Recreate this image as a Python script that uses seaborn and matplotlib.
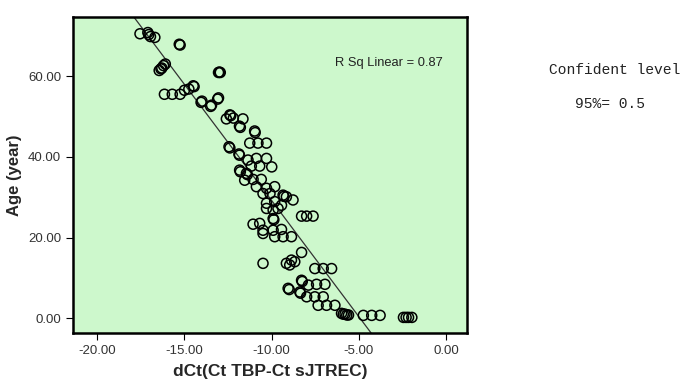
# Age vs dCt scatter with linear fit (SPSS style)
import matplotlib
matplotlib.use("Agg")
import matplotlib.pyplot as plt
import seaborn as sns
import pandas as pd

# values
dct = [-17.55, -17.1, -17.05, -16.95, -16.7,
       -15.3, -15.25,
       -16.45, -16.35, -16.3, -16.2, -16.1,
       -13.05, -12.95, -13.0,
       -16.15, -15.7, -15.25,
       -15.0, -14.75, -14.5, -14.45,
       -14.05, -14.0, -13.5, -13.45, -13.1, -13.05,
       -12.4, -12.35, -12.6, -12.2, -11.65,
       -11.85, -11.8,
       -10.98, -10.95,
       -11.26, -10.79, -10.3,
       -12.45, -12.4,
       -11.88, -11.85,
       -11.36, -10.88, -10.3, -10.0, -10.69, -11.17,
       -11.84, -11.8, -11.45, -11.4,
       -11.55, -11.07, -10.6,
       -10.88, -10.3, -9.83, -10.5, -10.1,
       -9.35, -9.3, -9.16,
       -8.78,
       -10.3, -9.83, -9.44,
       -10.3, -9.92, -9.64,
       -9.92, -9.88,
       -8.29, -8.0, -7.63,
       -11.07, -10.69, -10.5, -10.5,
       -9.92, -9.44, -9.83, -9.35, -8.87,
       -8.29,
       -10.5,
       -9.16, -8.87, -8.68, -8.97,
       -7.53, -7.05, -6.57,
       -8.29, -8.25,
       -7.9, -7.43, -6.95,
       -9.06, -9.0, -8.39, -8.35,
       -8.0, -7.53, -7.05,
       -7.34, -6.86, -6.38,
       -6.0, -5.9, -5.8, -5.7, -5.6,
       -4.75, -4.27, -3.79,
       -2.45, -2.3, -2.16, -1.97]
age = [70.5, 70.8, 70.3, 69.8, 69.6,
       67.9, 67.7,
       61.4, 61.8, 62.0, 62.6, 63.0,
       60.9, 60.9, 61.0,
       55.5, 55.5, 55.5,
       56.5, 56.8, 57.6, 57.4,
       53.5, 53.8, 52.5, 52.8, 54.3, 54.6,
       50.4, 50.2, 49.4, 49.6, 49.4,
       47.6, 47.3,
       46.4, 46.0,
       43.4, 43.4, 43.4,
       42.5, 42.2,
       40.7, 40.4,
       39.2, 39.6, 39.6, 37.5, 37.7, 37.7,
       36.7, 36.3, 35.9, 35.6,
       34.2, 34.4, 34.4,
       32.6, 32.2, 32.6, 30.9, 30.9,
       30.5, 30.2, 30.1,
       29.3,
       28.5, 28.9, 28.0,
       27.2, 26.8, 27.2,
       24.7, 24.4,
       25.3, 25.3, 25.3,
       23.3, 23.5, 21.8, 21.0,
       21.8, 22.0, 20.2, 20.2, 20.2,
       16.3,
       13.6,
       13.6, 14.4, 14.0, 13.2,
       12.3, 12.3, 12.3,
       9.4, 9.1,
       8.2, 8.4, 8.4,
       7.4, 7.1, 6.5, 6.2,
       5.3, 5.3, 5.3,
       3.2, 3.2, 3.2,
       1.2, 1.0, 1.0, 0.8, 0.8,
       0.7, 0.7, 0.7,
       0.2, 0.2, 0.2, 0.2]

x_ticks = [-20, -15, -10, -5, 0]
y_ticks = [0, 20, 40, 60]

df = pd.DataFrame({'dct': dct, 'age': age})

sns.set_style('ticks')
plt.rcParams['font.family'] = ['Liberation Sans', 'DejaVu Sans']

fig = plt.figure(figsize=(6.87, 3.91), dpi=100)
ax = fig.add_axes([0.106, 0.148, 0.574, 0.809])
ax.set_facecolor('#cdf8cc')
ax.set_xlim(-21.4, 1.2)
ax.set_ylim(-3.7, 74.7)

sns.regplot(data=df, x='dct', y='age', scatter=False, ci=None, truncate=False,
            line_kws={'color': '#333333', 'lw': 0.9}, ax=ax)
sns.scatterplot(data=df, x='dct', y='age', s=52, marker='o', fc='none',
                edgecolor='black', linewidth=1.1, ax=ax, zorder=3)
ax.set_xlim(-21.4, 1.2)
ax.set_ylim(-3.7, 74.7)

ax.set_xticks(x_ticks)
ax.set_yticks(y_ticks)
ax.set_xticklabels([f'{v:.2f}' for v in x_ticks], color='#333333', fontsize=9.5)
ax.set_yticklabels([f'{v:.2f}' for v in y_ticks], color='#333333', fontsize=9.5)
ax.tick_params(direction='out', length=5, width=0.8, color='black')
for s in ax.spines.values():
    s.set_linewidth(1.8)
    s.set_color('black')

ax.set_xlabel('dCt(Ct TBP-Ct sJTREC)', fontsize=12.5, fontweight='bold', labelpad=5)
ax.set_ylabel('Age (year)', fontsize=12, fontweight='bold', labelpad=4)

ax.text(0.665, 0.855, 'R Sq Linear = 0.87', transform=ax.transAxes, fontsize=9.3,
        va='center', color='#222222')

fig.text(0.895, 0.82, 'Confident level', family='Liberation Mono', fontsize=10.5,
         ha='center', va='center', color='#222222')
fig.text(0.888, 0.734, '95%= 0.5', family='Liberation Mono', fontsize=10.5,
         ha='center', va='center', color='#222222')

fig.savefig('out.png', dpi=100)
